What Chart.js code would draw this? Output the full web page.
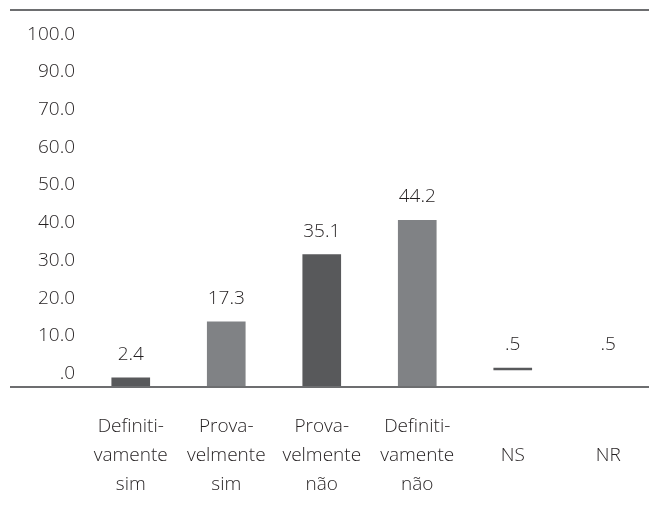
<!DOCTYPE html>
<html>
<head>
<meta charset="utf-8">
<script src="https://cdn.jsdelivr.net/npm/chart.js@4"></script>
<style>
  html, body { margin: 0; padding: 0; overflow: hidden; background: #fff; }
  #wrap { width: 660px; height: 511px; }
</style>
</head>
<body>
<div id="wrap"><canvas id="myChart" width="660" height="511"></canvas></div>
<script>
// answers, split over lines like the printed table
const categories = [
    ['Definiti-', 'vamente', 'sim'],
    ['Prova-', 'velmente', 'sim'],
    ['Prova-', 'velmente', 'não'],
    ['Definiti-', 'vamente', 'não'],
    ['', 'NS', ''],
    ['', 'NR', '']
];
const values = [2.4, 17.3, 35.1, 44.2, 0.5, 0.5];
// NS / NR sit a little above the axis
const bases = [0, 0, 0, 0, 4.5, 4.5];
const tickValues = [0, 10, 20, 30, 40, 50, 60, 70, 80, 90];
const tickLabels = ['.0', '10.0', '20.0', '30.0', '40.0', '50.0', '60.0', '70.0', '90.0', '100.0'];

const darkGrey = '#58595b';
const lightGrey = '#808285';
const barColors = [darkGrey, lightGrey, darkGrey, lightGrey, darkGrey, 'rgba(0,0,0,0)'];
const textColor = '#231f20';
const lineColor = '#6d6e70';
const fontFamily = '"Open Sans", "Noto Sans", sans-serif';

// 0.5 -> ".5", 2.4 -> "2.4"
const fmt = v => v.toFixed(1).replace(/^0\./, '.');

const frameLines = {
    id: 'frameLines',
    afterDatasetsDraw(chart) {
        const {ctx, chartArea} = chart;
        ctx.save();
        ctx.strokeStyle = lineColor;
        ctx.lineWidth = 2;
        [chartArea.top, chartArea.bottom].forEach(y => {
            ctx.beginPath();
            ctx.moveTo(10, y);
            ctx.lineTo(chart.width, y);
            ctx.stroke();
        });
        ctx.restore();
    }
};

const valueTags = {
    id: 'valueTags',
    afterDatasetsDraw(chart) {
        const {ctx} = chart;
        const meta = chart.getDatasetMeta(0);
        ctx.save();
        ctx.font = '300 19px ' + fontFamily;
        ctx.fillStyle = textColor;
        ctx.textAlign = 'center';
        ctx.textBaseline = 'alphabetic';
        meta.data.forEach((bar, i) => {
            ctx.fillText(fmt(values[i]), bar.x, bar.y - 18);
        });
        ctx.restore();
    }
};

const ctx = document.getElementById('myChart');

new Chart(ctx, {
    type: 'bar',
    data: {
        labels: categories,
        datasets: [{
            data: values.map((v, i) => [bases[i], bases[i] + v]),
            backgroundColor: barColors,
            borderWidth: 0,
            barThickness: 38
        }]
    },
    options: {
        responsive: false,
        animation: false,
        layout: {padding: {left: 10, top: 10, right: 4, bottom: 10}},
        plugins: {
            legend: {display: false},
            tooltip: {enabled: false}
        },
        scales: {
            x: {
                grid: {display: false, drawTicks: false},
                border: {display: false},
                ticks: {
                    color: textColor,
                    font: {family: fontFamily, size: 19, weight: 300, lineHeight: 1.53},
                    padding: 25,
                    maxRotation: 0,
                    autoSkip: false
                },
                afterFit: axis => {
                    axis.height = 114;
                    axis.paddingLeft = 0;
                    axis.paddingRight = 0;
                }
            },
            y: {
                min: 0,
                max: 100,
                grid: {display: false, drawTicks: false},
                border: {display: false},
                afterBuildTicks: axis => {
                    axis.ticks = tickValues.map(v => ({value: v}));
                },
                ticks: {
                    callback: (v, i) => tickLabels[i],
                    labelOffset: -13.5,
                    padding: 8,
                    color: textColor,
                    font: {family: fontFamily, size: 19, weight: 300}
                },
                afterFit: axis => {
                    axis.width = 73;
                    axis.paddingTop = 0;
                    axis.paddingBottom = 0;
                }
            }
        }
    },
    plugins: [frameLines, valueTags]
});
</script>
</body>
</html>
